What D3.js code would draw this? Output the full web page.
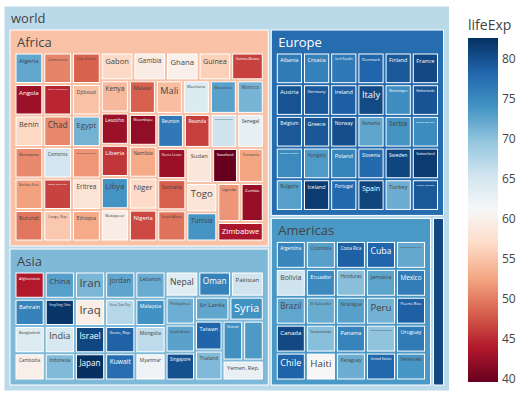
<!DOCTYPE html>
<html><head><meta charset="utf-8">
<script src="https://cdn.jsdelivr.net/npm/d3@7"></script>
<style>body{margin:0;background:#fff} svg{display:block}</style>
</head><body><svg id="chart" width="524" height="399"></svg>
<script>
const africaCountries = ["Algeria","Angola","Benin","Botswana","Burkina Faso","Burundi","Cameroon","Central African Republic","Chad","Comoros","Congo, Dem. Rep.","Congo, Rep.","Cote d'Ivoire","Djibouti","Egypt","Equatorial Guinea","Eritrea","Ethiopia","Gabon","Gambia","Ghana","Guinea","Guinea-Bissau","Kenya","Lesotho","Liberia","Libya","Madagascar","Malawi","Mali","Mauritania","Mauritius","Morocco","Mozambique","Namibia","Niger","Nigeria","Reunion","Rwanda","Sao Tome and Principe","Senegal","Sierra Leone","Somalia","South Africa","Sudan","Swaziland","Tanzania","Togo","Tunisia","Uganda","Zambia","Zimbabwe"];
const africaLifeExp = [72.301,42.731,56.728,50.728,52.295,49.58,50.43,44.741,50.651,65.152,46.462,55.322,48.328,54.791,71.338,51.579,58.04,52.947,56.735,59.448,60.022,56.007,46.388,54.11,42.592,45.678,73.952,59.443,48.303,54.467,64.164,72.801,71.164,42.082,52.906,56.867,46.859,76.442,46.242,65.528,63.062,42.568,48.159,49.339,58.556,39.613,52.517,58.42,73.923,51.542,42.384,43.487];

const americasCountries = ["Argentina","Bolivia","Brazil","Canada","Chile","Colombia","Costa Rica","Cuba","Dominican Republic","Ecuador","El Salvador","Guatemala","Haiti","Honduras","Jamaica","Mexico","Nicaragua","Panama","Paraguay","Peru","Puerto Rico","Trinidad and Tobago","United States","Uruguay","Venezuela"];
const americasLifeExp = [75.32,65.554,72.39,80.653,78.553,72.889,78.782,78.273,72.235,74.994,71.878,70.259,60.916,70.198,72.567,76.195,72.899,75.537,71.752,71.421,78.746,69.819,78.242,76.384,73.747];

const asiaCountries = ["Afghanistan","Bahrain","Bangladesh","Cambodia","China","Hong Kong, China","India","Indonesia","Iran","Iraq","Israel","Japan","Jordan","Korea, Dem. Rep.","Korea, Rep.","Kuwait","Lebanon","Malaysia","Mongolia","Myanmar","Nepal","Oman","Pakistan","Philippines","Saudi Arabia","Singapore","Sri Lanka","Syria","Taiwan","Thailand","Vietnam","West Bank and Gaza","Yemen, Rep."];
const asiaLifeExp = [43.828,75.635,64.062,59.723,72.961,82.208,64.698,70.65,70.964,59.545,80.745,82.603,72.535,67.297,78.623,77.588,71.993,74.241,66.803,62.069,63.785,75.64,65.483,71.688,72.777,79.972,72.396,74.143,78.4,70.616,74.249,73.422,62.698];

const europeCountries = ["Albania","Austria","Belgium","Bosnia and Herzegovina","Bulgaria","Croatia","Czech Republic","Denmark","Finland","France","Germany","Greece","Hungary","Iceland","Ireland","Italy","Montenegro","Netherlands","Norway","Poland","Portugal","Romania","Serbia","Slovak Republic","Slovenia","Spain","Sweden","Switzerland","Turkey","United Kingdom"];
const europeLifeExp = [76.423,79.829,79.441,74.852,73.005,75.748,76.486,78.332,79.313,80.657,79.406,79.483,73.338,81.757,78.885,80.546,74.543,79.762,80.196,75.563,78.098,72.476,74.002,74.663,77.926,80.941,80.884,81.701,71.777,79.425];

const oceaniaCountries = ["Australia","New Zealand"];
const oceaniaLifeExp = [81.235,80.204];

const continents = ["Africa","Americas","Asia","Europe","Oceania"];
const continentCountries = [africaCountries, americasCountries, asiaCountries, europeCountries, oceaniaCountries];
const continentLifeExp = [africaLifeExp, americasLifeExp, asiaLifeExp, europeLifeExp, oceaniaLifeExp];

const colorTicks = [40,45,50,55,60,65,70,75,80];
const rdbu = ["rgb(103,0,31)","rgb(178,24,43)","rgb(214,96,77)","rgb(244,165,130)","rgb(253,219,199)","rgb(247,247,247)","rgb(209,229,240)","rgb(146,197,222)","rgb(67,147,195)","rgb(33,102,172)","rgb(5,48,97)"];

const FONT = '"Open Sans", verdana, arial, sans-serif';
const svg = d3.select("#chart");

const data = {name: "world", children: continents.map((c, i) => ({
  name: c,
  children: continentCountries[i].map((n, j) => ({name: n, lifeExp: continentLifeExp[i][j]}))
}))};

const root = d3.hierarchy(data).sum(d => d.children ? 0 : 1).sort((a, b) => b.value - a.value);
root.eachAfter(n => { if (n.children) n.data.lifeExp = d3.mean(n.leaves(), l => l.data.lifeExp); });
const allVals = root.descendants().map(d => d.data.lifeExp);
const cmin = d3.min(allVals), cmax = d3.max(allVals);
const color = d3.scaleLinear()
  .domain(rdbu.map((c, i) => cmin + (cmax - cmin) * i / 10))
  .range(rdbu).interpolate(d3.interpolateRgb);

const OX = 4, OY = 6;
d3.treemap().tile(d3.treemapSquarify.ratio(1)).size([445.5, 385])
  .paddingInner(3).paddingTop(24).paddingLeft(6).paddingRight(6).paddingBottom(6)(root);

function textColor(c) {
  const r = d3.rgb(c);
  return (r.r * 299 + r.g * 587 + r.b * 114) / 1000 >= 128 ? "#444" : "#fff";
}
const ctx = document.createElement("canvas").getContext("2d");
function measure(t, fs) { ctx.font = fs + "px " + FONT; return ctx.measureText(t).width; }

const g = svg.append("g").attr("transform", `translate(${OX},${OY})`);
const nodes = root.descendants().filter(d => d.x1 - d.x0 >= 1 && d.y1 - d.y0 >= 1);
const cell = g.selectAll("g.node").data(nodes).join("g").attr("class", "node");
cell.append("rect")
  .attr("x", d => d.x0).attr("y", d => d.y0)
  .attr("width", d => d.x1 - d.x0).attr("height", d => d.y1 - d.y0)
  .attr("fill", d => color(d.data.lifeExp))
  .attr("stroke", "#fff").attr("stroke-width", 1);

cell.each(function(d) {
  const w = d.x1 - d.x0, h = d.y1 - d.y0;
  const fill = textColor(color(d.data.lifeExp));
  if (d.children) {
    let fs = 13;
    const tw = measure(d.data.name, fs);
    if (tw > w - 12) fs = fs * (w - 12) / tw;
    if (fs < 4) return;
    d3.select(this).append("text")
      .attr("x", d.x0 + 7).attr("y", d.y0 + 16.5)
      .attr("font-family", FONT).attr("font-size", fs).attr("fill", fill)
      .text(d.data.name);
  } else {
    const base = 12;
    const tw = measure(d.data.name, base);
    let fs = Math.min(base, base * (w - 6) / tw, (h - 4) / 1.36);
    if (fs < 1.5) return;
    d3.select(this).append("text")
      .attr("x", d.x0 + 3).attr("y", d.y0 + 3 + fs * 0.98)
      .attr("font-family", FONT).attr("font-size", fs.toFixed(2)).attr("fill", fill)
      .text(d.data.name);
  }
});

// colorbar
const cbX = 468, cbW = 30, cbTop = 38, cbBot = 382;
const defs = svg.append("defs");
const grad = defs.append("linearGradient").attr("id", "cbgrad")
  .attr("x1", 0).attr("y1", 1).attr("x2", 0).attr("y2", 0);
grad.selectAll("stop").data(rdbu).join("stop")
  .attr("offset", (c, i) => i / 10).attr("stop-color", c => c);
svg.append("rect").attr("x", cbX).attr("y", cbTop).attr("width", cbW).attr("height", cbBot - cbTop)
  .attr("fill", "url(#cbgrad)");
const cbScale = d3.scaleLinear().domain([cmin, cmax]).range([cbBot, cbTop]);
const axis = svg.append("g").attr("transform", `translate(${cbX + cbW},0)`)
  .call(d3.axisRight(cbScale).tickValues(colorTicks).tickSize(0).tickPadding(4).tickFormat(d3.format("d")));
axis.select(".domain").remove();
axis.selectAll("text").attr("font-family", FONT).attr("font-size", 12).attr("fill", "#444");
svg.append("text").attr("x", cbX).attr("y", 30)
  .attr("font-family", FONT).attr("font-size", 14).attr("fill", "#444").text("lifeExp");
</script>
</body></html>
